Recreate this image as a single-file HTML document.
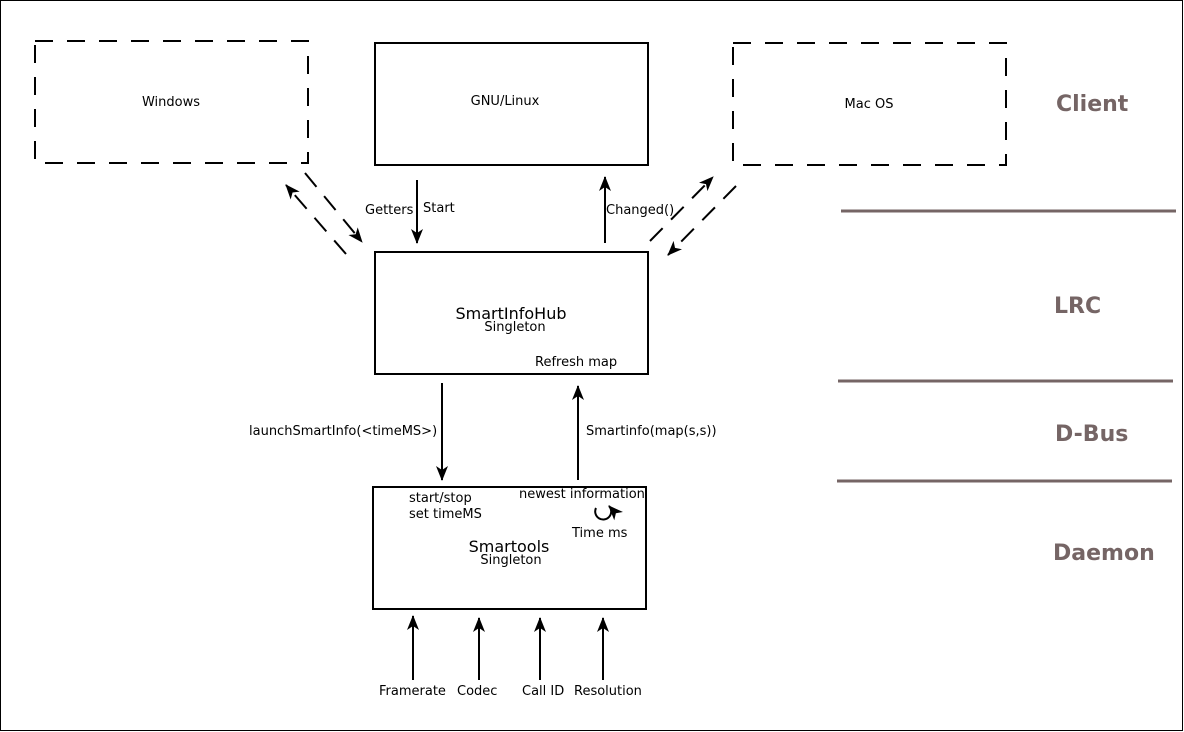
<!DOCTYPE html>
<html><head><style>body{margin:0;background:#fff}svg{display:block}text{font-family:"DejaVu Sans","Liberation Sans",sans-serif}</style></head>
<body>
<svg width="1184" height="732" viewBox="0 0 1184 732" xmlns="http://www.w3.org/2000/svg">
<defs>
<marker id="a" markerWidth="18" markerHeight="14" refX="14" refY="6" orient="auto" markerUnits="userSpaceOnUse">
<path d="M0,0 L15,6 L0,12 L4,6 Z" fill="#000"/>
</marker>
</defs>
<rect x="0.5" y="0.5" width="1182" height="730" fill="#fff" stroke="#000" stroke-width="1"/>
<g fill="none" stroke="#000" stroke-width="2">
<rect x="35" y="41" width="273" height="122" stroke-dasharray="18,14"/>
<rect x="375" y="43" width="273" height="122"/>
<rect x="733" y="43" width="273" height="122" stroke-dasharray="18,14"/>
<rect x="375" y="252" width="273" height="122"/>
<rect x="373" y="487" width="273" height="122"/>
<g stroke-dasharray="18,12">
<line x1="305" y1="173" x2="362" y2="242" marker-end="url(#a)"/>
<line x1="346" y1="254" x2="286" y2="185" marker-end="url(#a)"/>
<line x1="650" y1="241" x2="713" y2="177" marker-end="url(#a)"/>
<line x1="736" y1="186" x2="668" y2="255" marker-end="url(#a)"/>
</g>
<line x1="417" y1="180" x2="417" y2="243" marker-end="url(#a)"/>
<line x1="605" y1="243" x2="605" y2="177" marker-end="url(#a)"/>
<line x1="442" y1="383" x2="442" y2="480" marker-end="url(#a)"/>
<line x1="578" y1="480" x2="578" y2="386" marker-end="url(#a)"/>
<line x1="413" y1="680" x2="413" y2="616" marker-end="url(#a)"/>
<line x1="479" y1="680" x2="479" y2="618" marker-end="url(#a)"/>
<line x1="540" y1="680" x2="540" y2="618" marker-end="url(#a)"/>
<line x1="603" y1="680" x2="603" y2="618" marker-end="url(#a)"/>
<path d="M596,508 A8,8 0 1 0 609,506" marker-end="url(#a)"/>
</g>
<g stroke="#756565" stroke-width="3">
<line x1="841" y1="211" x2="1176" y2="211"/>
<line x1="838" y1="381" x2="1173" y2="381"/>
<line x1="837" y1="481" x2="1172" y2="481"/>
</g>
<g font-size="13" fill="#000">
<text x="171" y="106" text-anchor="middle">Windows</text>
<text x="505" y="105" text-anchor="middle">GNU/Linux</text>
<text x="869" y="108" text-anchor="middle">Mac OS</text>
<text x="365" y="214">Getters</text>
<text x="423" y="212">Start</text>
<text x="606" y="214">Changed()</text>
<text x="511" y="319" text-anchor="middle" font-size="16">SmartInfoHub</text>
<text x="515" y="331" text-anchor="middle">Singleton</text>
<text x="535" y="366">Refresh map</text>
<text x="249" y="435">launchSmartInfo(&lt;timeMS&gt;)</text>
<text x="586" y="435">Smartinfo(map(s,s))</text>
<text x="409" y="502">start/stop</text>
<text x="409" y="518">set timeMS</text>
<text x="519" y="498">newest information</text>
<text x="572" y="537">Time ms</text>
<text x="509" y="552" text-anchor="middle" font-size="16">Smartools</text>
<text x="511" y="564" text-anchor="middle">Singleton</text>
<text x="379" y="695">Framerate</text>
<text x="457" y="695">Codec</text>
<text x="522" y="695">Call ID</text>
<text x="574" y="695">Resolution</text>
</g>
<g font-size="22" font-weight="bold" fill="#756565">
<text x="1056" y="111">Client</text>
<text x="1054" y="313">LRC</text>
<text x="1055" y="441">D-Bus</text>
<text x="1053" y="560">Daemon</text>
</g>
</svg>
</body></html>
